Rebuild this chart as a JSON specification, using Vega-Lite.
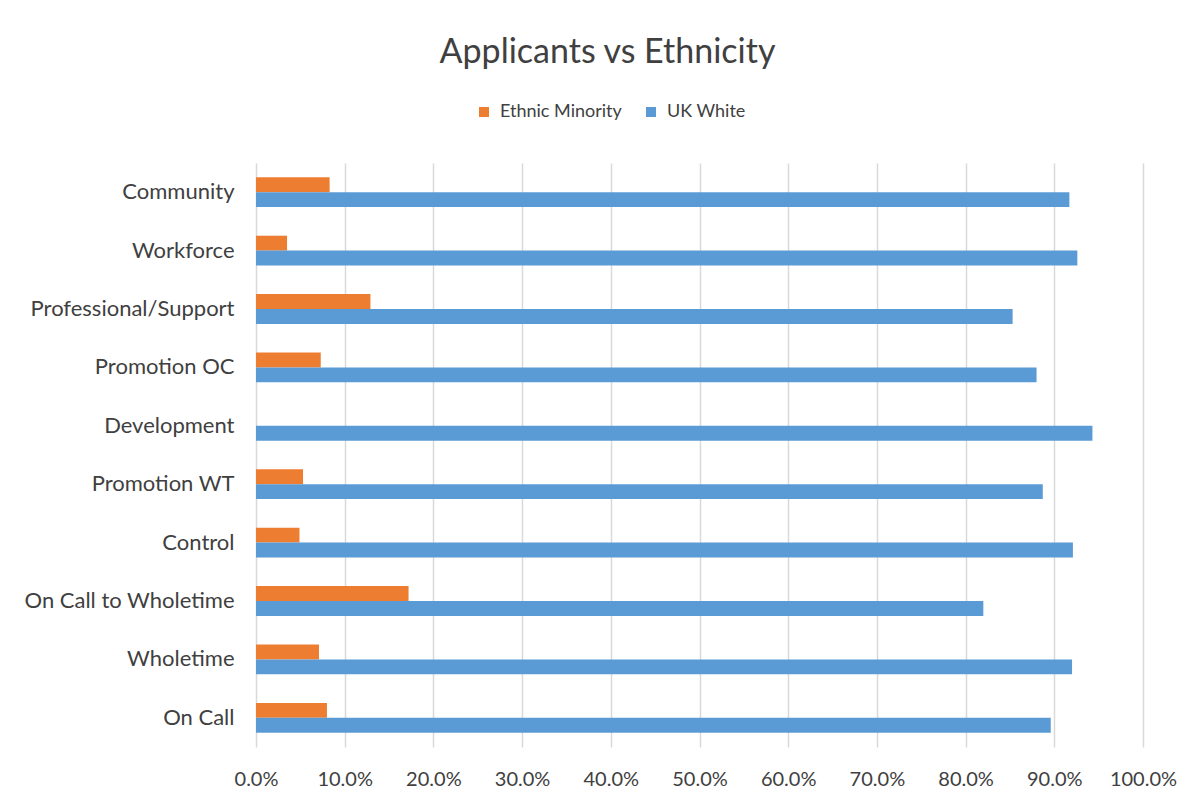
{
  "$schema": "https://vega.github.io/schema/vega-lite/v6.json",
  "width": 887,
  "height": 584,
  "autosize": {"type": "none"},
  "padding": {"left": 256, "top": 163, "right": 60, "bottom": 56},
  "background": "white",
  "title": {
    "text": "Applicants vs Ethnicity",
    "font": "Lato",
    "fontSize": 34,
    "fontWeight": "normal",
    "color": "#404040",
    "anchor": "middle",
    "dx": -92,
    "offset": 33
  },
  "data": {
    "values": [
      {"category": "Community", "series": "Ethnic Minority", "value": 0.083},
      {"category": "Community", "series": "UK White", "value": 0.917},
      {"category": "Workforce", "series": "Ethnic Minority", "value": 0.035},
      {"category": "Workforce", "series": "UK White", "value": 0.926},
      {"category": "Professional/Support", "series": "Ethnic Minority", "value": 0.129},
      {"category": "Professional/Support", "series": "UK White", "value": 0.853},
      {"category": "Promotion OC", "series": "Ethnic Minority", "value": 0.073},
      {"category": "Promotion OC", "series": "UK White", "value": 0.880},
      {"category": "Development", "series": "Ethnic Minority", "value": 0.0},
      {"category": "Development", "series": "UK White", "value": 0.943},
      {"category": "Promotion WT", "series": "Ethnic Minority", "value": 0.053},
      {"category": "Promotion WT", "series": "UK White", "value": 0.887},
      {"category": "Control", "series": "Ethnic Minority", "value": 0.049},
      {"category": "Control", "series": "UK White", "value": 0.921},
      {"category": "On Call to Wholetime", "series": "Ethnic Minority", "value": 0.172},
      {"category": "On Call to Wholetime", "series": "UK White", "value": 0.820},
      {"category": "Wholetime", "series": "Ethnic Minority", "value": 0.071},
      {"category": "Wholetime", "series": "UK White", "value": 0.920},
      {"category": "On Call", "series": "Ethnic Minority", "value": 0.080},
      {"category": "On Call", "series": "UK White", "value": 0.896}
    ]
  },
  "mark": {"type": "bar"},
  "encoding": {
    "y": {
      "field": "category",
      "type": "nominal",
      "sort": ["Community", "Workforce", "Professional/Support", "Promotion OC", "Development", "Promotion WT", "Control", "On Call to Wholetime", "Wholetime", "On Call"],
      "scale": {"paddingInner": 0.49, "paddingOuter": 0.245},
      "axis": {
        "title": null,
        "domain": false,
        "ticks": false,
        "grid": false,
        "labelFont": "Lato",
        "labelFontSize": 22,
        "labelLimit": 300,
        "labelColor": "#404040",
        "labelPadding": 22
      }
    },
    "yOffset": {
      "field": "series",
      "type": "nominal",
      "sort": ["Ethnic Minority", "UK White"],
      "scale": {"paddingInner": 0, "paddingOuter": 0}
    },
    "x": {
      "field": "value",
      "type": "quantitative",
      "scale": {"domain": [0, 1], "nice": false},
      "axis": {
        "title": null,
        "format": ".1%",
        "values": [0, 0.1, 0.2, 0.3, 0.4, 0.5, 0.6, 0.7, 0.8, 0.9, 1.0],
        "labelOverlap": false,
        "labelFlush": false,
        "domain": false,
        "ticks": false,
        "grid": true,
        "gridColor": "#D9D9D9",
        "gridWidth": 1.5,
        "labelFont": "Lato",
        "labelFontSize": 20,
        "labelColor": "#404040",
        "labelPadding": 22
      }
    },
    "color": {
      "field": "series",
      "type": "nominal",
      "scale": {"domain": ["Ethnic Minority", "UK White"], "range": ["#ED7D31", "#5B9BD5"]},
      "legend": {
        "title": null,
        "orient": "none",
        "direction": "horizontal",
        "legendX": 219,
        "legendY": -60,
        "symbolType": "square",
        "symbolSize": 100,
        "symbolStrokeWidth": 0,
        "labelFont": "Lato",
        "labelFontSize": 18,
        "labelColor": "#404040",
        "labelOffset": 7,
        "columnPadding": 20
      }
    }
  },
  "config": {
    "view": {"stroke": null}
  }
}
